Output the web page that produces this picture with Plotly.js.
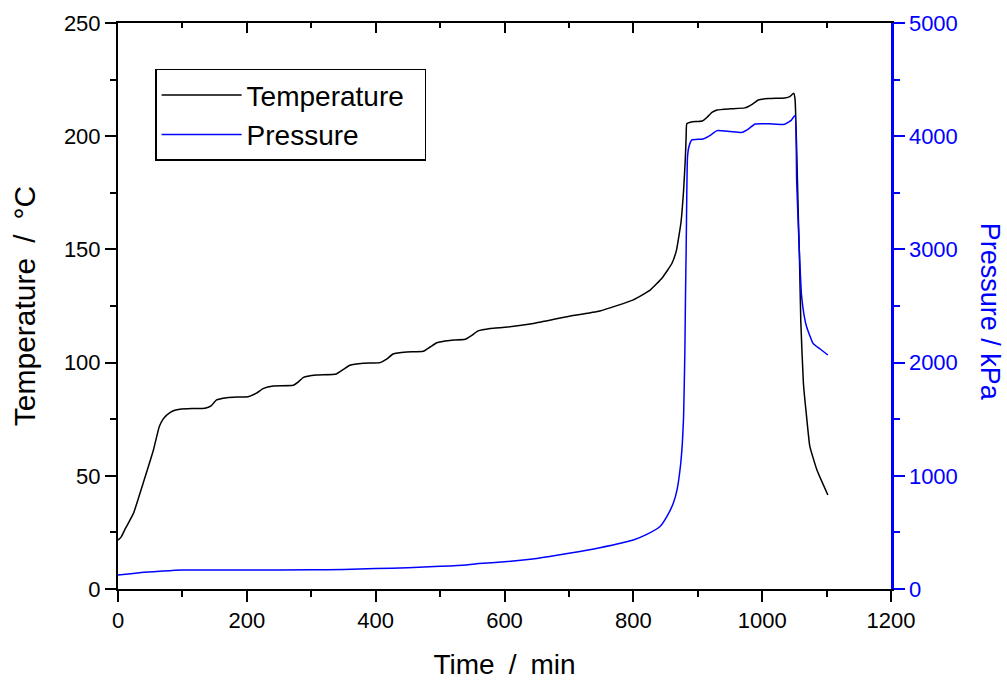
<!DOCTYPE html>
<html>
<head>
<meta charset="utf-8">
<script src="https://cdn.plot.ly/plotly-3.0.1.min.js"></script>
<style>html,body{margin:0;padding:0;background:#fff;}#chart{width:1007px;height:680px;}</style>
</head>
<body>
<div id="chart"></div>
<script>
// Temperature series (time in min, temperature in °C)
var tempTime = [0, 5, 12, 24, 39, 55, 64, 70, 76, 85, 96, 115, 135, 145, 153, 169, 185, 202, 215, 226, 241, 272, 280, 288, 308, 339, 350, 360, 381, 407, 417, 427, 448, 474, 485, 495, 515, 539, 549, 559, 578, 593, 645, 697, 748, 800, 826, 845, 860, 867, 874, 878, 880.7, 882, 883, 890, 907, 915, 922, 930, 950, 973, 985, 994, 1010, 1035, 1043, 1049, 1051, 1053.5, 1056, 1057.6, 1060, 1064, 1069, 1074, 1085, 1095, 1102];
var tempValue = [21.6, 23, 27, 33.4, 46.7, 61.4, 71.7, 75, 76.9, 78.6, 79.4, 79.7, 79.8, 81, 83.5, 84.5, 84.8, 84.9, 86.5, 88.6, 89.7, 90.0, 91.5, 93.5, 94.5, 95.0, 97, 98.8, 99.7, 100.0, 101.5, 103.8, 104.7, 105.0, 107, 108.8, 109.8, 110.3, 112, 114.0, 115.1, 115.4, 117.3, 120.3, 122.8, 127.7, 132, 137.5, 143.9, 149.7, 162, 176, 190, 200, 205.5, 206.3, 206.7, 208.5, 210.5, 211.6, 212.1, 212.5, 214.2, 216, 216.6, 216.9, 217.5, 219, 216.5, 195, 166, 150, 118, 91, 76, 63, 52.6, 46, 41.5];

// Pressure series (time in min, pressure in kPa)
var presTime = [0, 20, 40, 70, 100, 150, 200, 300, 350, 400, 450, 500, 540, 560, 600, 650, 700, 748, 800, 820, 841, 852, 862, 868, 873, 876, 878, 880, 881, 882, 883, 884, 886, 890.5, 908, 920, 930, 950, 969, 980, 989, 1010, 1035, 1045, 1051, 1053.5, 1055.5, 1057.6, 1061, 1065, 1069, 1079, 1090, 1102];
var presValue = [124, 135, 147, 159, 168, 168, 168, 170, 172, 180, 188, 200, 212, 225, 240, 270, 315, 365, 433, 480, 550, 640, 757, 880, 1080, 1280, 1520, 2100, 2600, 3000, 3500, 3807, 3900, 3966, 3975, 4010, 4049, 4042, 4034, 4070, 4108, 4110, 4105, 4140, 4184, 3613, 3300, 3000, 2600, 2420, 2317, 2170, 2120, 2067];

var seriesNames = ['Temperature\u00a0\u00a0', 'Pressure'];

var traces = [
  {x: tempTime, y: tempValue, name: seriesNames[0], type: 'scatter', mode: 'lines',
   line: {color: '#000000', width: 1.5, shape: 'spline', smoothing: 0.4}, xaxis: 'x', yaxis: 'y'},
  {x: presTime, y: presValue, name: seriesNames[1], type: 'scatter', mode: 'lines',
   line: {color: '#0000ff', width: 1.5, shape: 'spline', smoothing: 0.4}, xaxis: 'x', yaxis: 'y2'},
  {x: [0], y: [null], showlegend: false, hoverinfo: 'skip', xaxis: 'x2', yaxis: 'y', mode: 'lines'}
];

var tickFont = {family: 'Liberation Sans, Arial, sans-serif', size: 22, color: '#000'};
var layout = {
  width: 1007, height: 680,
  margin: {l: 118, r: 116, t: 23, b: 91},
  paper_bgcolor: '#fff', plot_bgcolor: '#fff',
  font: {family: 'Liberation Sans, Arial, sans-serif', size: 22, color: '#000'},
  showlegend: true,
  legend: {x: 0.048, y: 0.919, xanchor: 'left', yanchor: 'top',
           bordercolor: '#000', borderwidth: 1.5, bgcolor: '#fff',
           font: {family: 'Liberation Sans, Arial, sans-serif', size: 28, color: '#000'},
           itemwidth: 80, tracegroupgap: 0},
  xaxis: {range: [0, 1200], dtick: 200, tick0: 0, showgrid: false, zeroline: false,
          showline: true, linecolor: '#000', linewidth: 2,
          ticks: 'outside', ticklen: 11, tickwidth: 2, tickcolor: '#000',
          minor: {dtick: 100, ticks: 'outside', ticklen: 6, tickwidth: 2, tickcolor: '#000', showgrid: false},
          tickfont: tickFont,
          title: {text: 'Time\u2002/\u2002min', font: {size: 28, color: '#000'}, standoff: 22}},
  xaxis2: {range: [0, 1200], dtick: 200, overlaying: 'x', side: 'top', anchor: 'y',
           showgrid: false, zeroline: false, showticklabels: false,
           showline: true, linecolor: '#000', linewidth: 2,
           ticks: 'inside', ticklen: 10, tickwidth: 2, tickcolor: '#000',
           minor: {dtick: 100, ticks: 'inside', ticklen: 5, tickwidth: 2, tickcolor: '#000', showgrid: false}},
  yaxis: {range: [0, 250], dtick: 50, tick0: 0, showgrid: false, zeroline: false,
          showline: true, linecolor: '#000', linewidth: 2,
          ticks: 'outside', ticklen: 11, tickwidth: 2, tickcolor: '#000',
          minor: {dtick: 25, ticks: 'outside', ticklen: 6, tickwidth: 2, tickcolor: '#000', showgrid: false},
          tickfont: tickFont,
          title: {text: 'Temperature\u2002/\u2002°C', font: {size: 30, color: '#000'}, standoff: 19}},
  yaxis2: {range: [0, 5000], dtick: 1000, tick0: 0, overlaying: 'y', side: 'right', anchor: 'x',
           showgrid: false, zeroline: false,
           showline: true, linecolor: '#0000ff', linewidth: 2.5,
           ticks: 'outside', ticklen: 11, tickwidth: 2, tickcolor: '#0000ff',
           minor: {dtick: 500, ticks: 'outside', ticklen: 6, tickwidth: 2, tickcolor: '#0000ff', showgrid: false},
           tickfont: {family: 'Liberation Sans, Arial, sans-serif', size: 22, color: '#0000ff'}},
  annotations: [{
    text: 'Pressure / kPa', xref: 'paper', yref: 'paper', x: 1.128, y: 0.49,
    xanchor: 'center', yanchor: 'middle', textangle: 90, showarrow: false,
    font: {family: 'Liberation Sans, Arial, sans-serif', size: 27, color: '#0000ff'}
  }]
};

Plotly.newPlot('chart', traces, layout, {staticPlot: true, displayModeBar: false});
</script>
</body>
</html>
